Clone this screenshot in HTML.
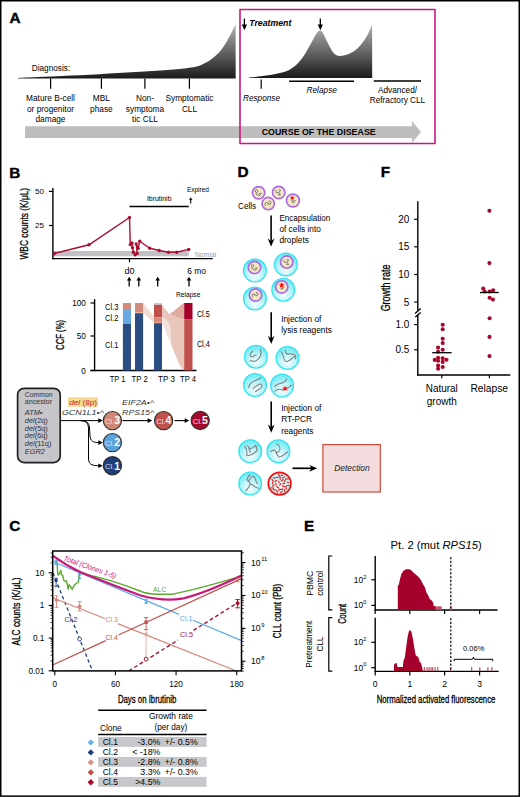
<!DOCTYPE html>
<html><head><meta charset="utf-8"><title>Figure</title>
<style>
html,body{margin:0;padding:0;background:#fff;width:520px;height:797px;overflow:hidden;}
svg{display:block;font-family:"Liberation Sans",sans-serif;}
</style></head><body>
<svg width="520" height="797" viewBox="0 0 520 797" font-family="&quot;Liberation Sans&quot;, sans-serif">
<defs>
<linearGradient id="gA1" x1="0" y1="23" x2="0" y2="79" gradientUnits="userSpaceOnUse">
<stop offset="0" stop-color="#b4b4b4"/><stop offset="0.45" stop-color="#6e6e6e"/><stop offset="1" stop-color="#1a1a1a"/>
</linearGradient>
<linearGradient id="gA2" x1="0" y1="25" x2="0" y2="78" gradientUnits="userSpaceOnUse">
<stop offset="0" stop-color="#b0b0b0"/><stop offset="0.45" stop-color="#6e6e6e"/><stop offset="1" stop-color="#1a1a1a"/>
</linearGradient>

<radialGradient id="gDrop" cx="0.5" cy="0.72" r="0.62">
<stop offset="0" stop-color="#f2fdfe"/><stop offset="0.5" stop-color="#c4f5fa"/><stop offset="1" stop-color="#7aebf4"/>
</radialGradient>
<radialGradient id="gDrop2" cx="0.5" cy="0.55" r="0.6">
<stop offset="0" stop-color="#ffffff"/><stop offset="0.45" stop-color="#d0f7fa"/><stop offset="1" stop-color="#a8f0f6"/>
</radialGradient>
</defs>
<rect x="0.75" y="0.75" width="518.5" height="795.4" fill="#fff" stroke="#000" stroke-width="1.5"/>
<text x="9.5" y="22.7" font-size="15.3" font-weight="bold" stroke="#000" stroke-width="0.4">A</text>
<path d="M17.9,78.6 L17.9,77.9 C60,76.6 120,73.2 160,70.6 C180,69.2 192,68 200,65.5 C213,60 221,52 227,41 C230.5,34.5 233.5,29 235.6,24.4 L235.7,78.6 Z" fill="url(#gA1)"/>
<line x1="50.6" y1="78.6" x2="50.6" y2="88.8" stroke="#000" stroke-width="1.2" />
<line x1="101.4" y1="78.6" x2="101.4" y2="88.8" stroke="#000" stroke-width="1.2" />
<line x1="144.9" y1="78.6" x2="144.9" y2="88.8" stroke="#000" stroke-width="1.2" />
<line x1="189.4" y1="78.6" x2="189.4" y2="88.8" stroke="#000" stroke-width="1.2" />
<text x="31.7" y="70.6" font-size="8.5" textLength="38.5" lengthAdjust="spacingAndGlyphs">Diagnosis:</text>
<text x="50.5" y="101.3" font-size="8.3" text-anchor="middle">Mature B-cell</text>
<text x="50.5" y="111.8" font-size="8.3" text-anchor="middle">or progenitor</text>
<text x="50.5" y="122.3" font-size="8.3" text-anchor="middle">damage</text>
<text x="101.4" y="101.3" font-size="8.3" text-anchor="middle">MBL</text>
<text x="101.4" y="111.8" font-size="8.3" text-anchor="middle">phase</text>
<text x="145.0" y="101.3" font-size="8.3" text-anchor="middle">Non-</text>
<text x="145.0" y="111.8" font-size="8.3" text-anchor="middle">symptoma</text>
<text x="145.0" y="122.3" font-size="8.3" text-anchor="middle">tic CLL</text>
<text x="189.5" y="101.3" font-size="8.3" text-anchor="middle">Symptomatic</text>
<text x="189.5" y="111.8" font-size="8.3" text-anchor="middle">CLL</text>
<polygon points="25.00,126.20 411.90,126.20 411.90,121.10 421.00,132.00 411.90,142.90 411.90,137.90 25.00,137.90" fill="#bdbdbd" />
<text x="261.7" y="135.2" font-size="9.3" font-weight="bold" textLength="114" lengthAdjust="spacingAndGlyphs">COURSE OF THE DISEASE</text>
<path d="M248.9,78 L248.9,77.6 C262,76.6 275,74.6 284,72.1 C292,69.5 298,64 303,57 C309,48 313,39 316.5,33.5 C318,31.2 319.2,30.6 320,30.6 C321,30.6 322.3,31.8 323.5,34 C326.5,40 329,46 332.5,51.5 C335,55 337,56 340,56 C345,56 350,53.5 355,50.5 C362,45 368,35.5 372.1,24.4 L372.2,78 Z" fill="url(#gA2)"/>
<line x1="244.4" y1="18.5" x2="244.4" y2="26.5" stroke="#000" stroke-width="1.3" />
<polygon points="241.80,24.50 247.00,24.50 244.40,30.20" fill="#000" />
<line x1="320.3" y1="18.5" x2="320.3" y2="26.5" stroke="#000" stroke-width="1.3" />
<polygon points="317.70,24.50 322.90,24.50 320.30,30.20" fill="#000" />
<text x="249.3" y="25.7" font-size="8.6" font-weight="bold" font-style="italic" textLength="42" lengthAdjust="spacingAndGlyphs">Treatment</text>
<line x1="261.2" y1="79.5" x2="261.2" y2="88.7" stroke="#000" stroke-width="1.2" />
<line x1="289.1" y1="81.2" x2="354" y2="81.2" stroke="#000" stroke-width="1.6" />
<line x1="373.8" y1="81" x2="421" y2="81" stroke="#000" stroke-width="1.6" />
<text x="243" y="101" font-size="8.3" font-style="italic" textLength="37" lengthAdjust="spacingAndGlyphs">Response</text>
<text x="321.7" y="92.5" font-size="8.3" text-anchor="middle" font-style="italic">Relapse</text>
<text x="397.5" y="93" font-size="8.3" text-anchor="middle">Advanced/</text>
<text x="397.5" y="103.3" font-size="8.3" text-anchor="middle" textLength="55.4" lengthAdjust="spacingAndGlyphs">Refractory CLL</text>
<rect x="240" y="9.5" width="195" height="134.0" fill="none" stroke="#c8177f" stroke-width="1.6" stroke-linejoin="round"/>
<text x="9.2" y="177.6" font-size="15.3" font-weight="bold" stroke="#000" stroke-width="0.4">B</text>
<rect x="53" y="251" width="135.7" height="5.3" fill="#c2c2c6" />
<line x1="52.9" y1="187.9" x2="52.9" y2="259.3" stroke="#000" stroke-width="1.4" />
<line x1="52.2" y1="258.6" x2="212.8" y2="258.6" stroke="#000" stroke-width="1.4" />
<line x1="48.9" y1="191.4" x2="52.9" y2="191.4" stroke="#000" stroke-width="1.2" />
<text x="44.0" y="194.3" font-size="8" text-anchor="end">50</text>
<line x1="48.9" y1="225.5" x2="52.9" y2="225.5" stroke="#000" stroke-width="1.2" />
<text x="44.0" y="228.4" font-size="8" text-anchor="end">25</text>
<line x1="129.5" y1="258.6" x2="129.5" y2="262.2" stroke="#000" stroke-width="1.2" />
<text transform="translate(28.1,223.7) rotate(-90)" x="0" y="0" font-size="11.6" text-anchor="middle" textLength="71.7" lengthAdjust="spacingAndGlyphs" stroke="#000" stroke-width="0.3">WBC counts (K/μL)</text>
<polyline points="54.40,253.50 89.00,244.80 129.50,217.50 130.30,244.60 132.00,243.00 132.50,247.80 133.40,252.20 135.20,254.70 137.20,253.40 136.20,244.00 138.20,248.40 139.70,241.20 149.70,248.30 159.20,250.50 168.50,252.30 176.70,252.20 188.70,249.40" fill="none" stroke="#a80f30" stroke-width="1.4" stroke-linejoin="round"/>
<circle cx="54.4" cy="253.5" r="1.7" fill="#a80f30"/>
<circle cx="89" cy="244.8" r="1.7" fill="#a80f30"/>
<circle cx="129.5" cy="217.5" r="1.7" fill="#a80f30"/>
<circle cx="130.3" cy="244.6" r="1.7" fill="#a80f30"/>
<circle cx="132" cy="243" r="1.7" fill="#a80f30"/>
<circle cx="132.5" cy="247.8" r="1.7" fill="#a80f30"/>
<circle cx="133.4" cy="252.2" r="1.7" fill="#a80f30"/>
<circle cx="135.2" cy="254.7" r="1.7" fill="#a80f30"/>
<circle cx="137.2" cy="253.4" r="1.7" fill="#a80f30"/>
<circle cx="136.2" cy="244" r="1.7" fill="#a80f30"/>
<circle cx="138.2" cy="248.4" r="1.7" fill="#a80f30"/>
<circle cx="139.7" cy="241.2" r="1.7" fill="#a80f30"/>
<circle cx="149.7" cy="248.3" r="1.7" fill="#a80f30"/>
<circle cx="159.2" cy="250.5" r="1.7" fill="#a80f30"/>
<circle cx="168.5" cy="252.3" r="1.7" fill="#a80f30"/>
<circle cx="176.7" cy="252.2" r="1.7" fill="#a80f30"/>
<circle cx="188.7" cy="249.4" r="1.7" fill="#a80f30"/>
<line x1="129.5" y1="206.5" x2="188.7" y2="206.5" stroke="#000" stroke-width="1.5" />
<text x="146.9" y="200.8" font-size="8" textLength="24.6" lengthAdjust="spacingAndGlyphs">Ibrutinib</text>
<text x="186.9" y="191.6" font-size="6.6" textLength="22.1" lengthAdjust="spacingAndGlyphs">Expired</text>
<line x1="190.7" y1="197.6" x2="190.7" y2="203.4" stroke="#000" stroke-width="1.1" />
<line x1="189.2" y1="199.4" x2="192.2" y2="199.4" stroke="#000" stroke-width="1.0" />
<text x="194.9" y="256.5" font-size="6.8" fill="#9a9a9a" textLength="21.4" lengthAdjust="spacingAndGlyphs">Normal</text>
<text x="124.4" y="274.1" font-size="8.6" textLength="10" lengthAdjust="spacingAndGlyphs">d0</text>
<text x="187.3" y="274.2" font-size="8.6" textLength="18.6" lengthAdjust="spacingAndGlyphs">6 mo</text>
<line x1="129.2" y1="279.5" x2="129.2" y2="286.6" stroke="#000" stroke-width="1.3" />
<polygon points="126.90,280.60 131.50,280.60 129.20,276.80" fill="#000" />
<line x1="138.8" y1="279.5" x2="138.8" y2="286.6" stroke="#000" stroke-width="1.3" />
<polygon points="136.50,280.60 141.10,280.60 138.80,276.80" fill="#000" />
<line x1="157.7" y1="279.5" x2="157.7" y2="286.6" stroke="#000" stroke-width="1.3" />
<polygon points="155.40,280.60 160.00,280.60 157.70,276.80" fill="#000" />
<line x1="189.0" y1="279.5" x2="189.0" y2="286.6" stroke="#000" stroke-width="1.3" />
<polygon points="186.70,280.60 191.30,280.60 189.00,276.80" fill="#000" />
<text x="176.0" y="297.0" font-size="7.0" textLength="24.4" lengthAdjust="spacingAndGlyphs">Relapse</text>
<line x1="94.6" y1="299.2" x2="94.6" y2="371.2" stroke="#000" stroke-width="1.4" />
<line x1="90.5" y1="370.5" x2="196.5" y2="370.5" stroke="#000" stroke-width="1.4" />
<line x1="90.5" y1="303.0" x2="94.6" y2="303.0" stroke="#000" stroke-width="1.2" />
<text x="85.8" y="306.0" font-size="8.2" text-anchor="end">100</text>
<line x1="90.5" y1="336.0" x2="94.6" y2="336.0" stroke="#000" stroke-width="1.2" />
<text x="85.8" y="339.0" font-size="8.2" text-anchor="end">50</text>
<line x1="90.5" y1="370.5" x2="94.6" y2="370.5" stroke="#000" stroke-width="1.2" />
<text x="85.8" y="373.5" font-size="8.2" text-anchor="end">0</text>
<text transform="translate(63.8,334.9) rotate(-90)" x="0" y="0" font-size="11.2" text-anchor="middle" textLength="30.1" lengthAdjust="spacingAndGlyphs" stroke="#000" stroke-width="0.3">CCF (%)</text>
<path d="M143.1,303 L154,316.8 L154,322.6 L143.1,313.2 Z" fill="#f1ddd6"/>
<path d="M162,305 C165,308 166.5,313.5 169,314 C172,314.3 178,318 184.1,319.5 L184.1,370.3 C181,368 179.5,365 177,359 C174,352 172,346 169.5,340 C167,334 164.5,326 162,323 Z" fill="#e9c6bb"/>
<path d="M162,317 C165.5,318.5 168.5,321 170,326 C170.8,329 171,334 171.3,342.5 C170.5,341.5 169.8,340.5 169.5,340 C167,334 164.5,326 162,323 Z" fill="#f3e2dc"/>
<path d="M162,305 C165,308 166.5,313.5 169,314 C173,313 179,306 184.1,303 L184.1,319.5 C178,318 172,314.3 169,314 Z" fill="#dfab9e"/>
<rect x="122.9" y="303" width="8.099999999999994" height="7" fill="#d48a7c" />
<rect x="122.9" y="310" width="8.099999999999994" height="13.800000000000011" fill="#68a8e0" />
<rect x="122.9" y="323.8" width="8.099999999999994" height="46.69999999999999" fill="#2c4c84" />
<rect x="135.0" y="303" width="8.099999999999994" height="9.300000000000011" fill="#d48a7c" />
<rect x="135.0" y="312.3" width="8.099999999999994" height="0.8999999999999773" fill="#f0a080" />
<rect x="135.0" y="313.2" width="8.099999999999994" height="57.30000000000001" fill="#2c4c84" />
<rect x="154.0" y="303" width="8.0" height="1.8000000000000114" fill="#c8ccd8" />
<rect x="154.0" y="304.8" width="8.0" height="12.399999999999977" fill="#c0504b" />
<rect x="154.0" y="317.2" width="8.0" height="4.800000000000011" fill="#d48a7c" />
<rect x="154.0" y="322.0" width="8.0" height="1.1999999999999886" fill="#f0a080" />
<rect x="154.0" y="323.2" width="8.0" height="47.30000000000001" fill="#2c4c84" />
<rect x="184.2" y="303" width="8.300000000000011" height="16.600000000000023" fill="#a6002a" />
<rect x="184.2" y="319.6" width="8.300000000000011" height="50.89999999999998" fill="#c0504b" />
<text x="105.0" y="309.7" font-size="8.2" textLength="13.3" lengthAdjust="spacingAndGlyphs">Cl.3</text>
<text x="105.0" y="320.9" font-size="8.2" textLength="13.3" lengthAdjust="spacingAndGlyphs">Cl.2</text>
<text x="105.0" y="348.0" font-size="8.2" textLength="13.3" lengthAdjust="spacingAndGlyphs">Cl.1</text>
<text x="196.9" y="317.0" font-size="8.4" textLength="12.8" lengthAdjust="spacingAndGlyphs">Cl.5</text>
<text x="196.9" y="347.1" font-size="8.4" textLength="12.8" lengthAdjust="spacingAndGlyphs">Cl.4</text>
<text x="109.7" y="382.1" font-size="8.6" textLength="15.7" lengthAdjust="spacingAndGlyphs">TP 1</text>
<text x="131.6" y="382.1" font-size="8.6" textLength="16.1" lengthAdjust="spacingAndGlyphs">TP 2</text>
<text x="158.1" y="382.1" font-size="8.6" textLength="16.8" lengthAdjust="spacingAndGlyphs">TP 3</text>
<text x="180.0" y="382.1" font-size="8.6" textLength="16.0" lengthAdjust="spacingAndGlyphs">TP 4</text>
<rect x="17.6" y="388.3" width="42.6" height="74.3" rx="6.5" ry="6.5" fill="#c5c5ca" stroke="#222" stroke-width="1.7"/>
<text x="24.8" y="396.5" font-size="7.2" fill="#333" textLength="27.9" lengthAdjust="spacingAndGlyphs">Common</text>
<text x="24.8" y="403.6" font-size="7.2" fill="#333" textLength="27.2" lengthAdjust="spacingAndGlyphs">ancestor</text>
<text x="24.8" y="415.2" font-size="7.4" font-style="italic" fill="#333">ATM•</text>
<text x="24.8" y="422.9" font-size="7.4" fill="#333"><tspan font-style="italic">del</tspan>(2q)</text>
<text x="24.8" y="430.6" font-size="7.4" fill="#333"><tspan font-style="italic">del</tspan>(5q)</text>
<text x="24.8" y="438.3" font-size="7.4" fill="#333"><tspan font-style="italic">del</tspan>(6q)</text>
<text x="24.8" y="446.0" font-size="7.4" fill="#333"><tspan font-style="italic">del</tspan>(11q)</text>
<text x="24.8" y="454.2" font-size="7.4" font-style="italic" fill="#333">EGR2</text>
<rect x="68.0" y="397.2" width="30.0" height="9.5" fill="#f6db8e" />
<text x="69.2" y="404.5" font-size="7.8" fill="#c42a30" textLength="27.8" lengthAdjust="spacingAndGlyphs"><tspan font-style="italic">del</tspan> (8p)</text>
<text x="61.9" y="414.8" font-size="8.0" font-style="italic" fill="#333" textLength="42" lengthAdjust="spacingAndGlyphs">GCN1L1•^</text>
<text x="122.1" y="404.7" font-size="8.0" font-style="italic" fill="#333" textLength="32" lengthAdjust="spacingAndGlyphs">EIF2A•^</text>
<text x="122.1" y="414.7" font-size="8.0" font-style="italic" fill="#333" textLength="32" lengthAdjust="spacingAndGlyphs">RPS15^</text>
<line x1="60.8" y1="420.6" x2="99" y2="420.6" stroke="#000" stroke-width="1.0" />
<polygon points="98.30,418.30 102.80,420.60 98.30,422.90" fill="#000" />
<path d="M80,420.6 C86,420.6 89,422 89.5,428 L90,436 C90.5,441 93,442.6 99,442.6" fill="none" stroke="#000" stroke-width="1.0"/>
<polygon points="98.30,440.30 102.80,442.60 98.30,444.90" fill="#000" />
<path d="M80,420.6 C85,420.6 88,422 88.5,428 L88.5,458 C88.5,464 91,465.7 99,465.7" fill="none" stroke="#000" stroke-width="1.0"/>
<polygon points="98.30,463.40 102.80,465.70 98.30,468.00" fill="#000" />
<line x1="122.5" y1="420.6" x2="148" y2="420.6" stroke="#000" stroke-width="1.1" />
<polygon points="147.70,418.30 152.20,420.60 147.70,422.90" fill="#000" />
<line x1="174.5" y1="420.6" x2="185" y2="420.6" stroke="#000" stroke-width="1.1" />
<polygon points="184.70,418.30 189.20,420.60 184.70,422.90" fill="#000" />
<circle cx="112.4" cy="420.6" r="9.1" fill="#d08777" stroke="#303030" stroke-width="1.15"/>
<text x="105.0" y="423.8" font-size="7.6" fill="#f4e8e8" opacity="0.92">Cl.</text>
<text x="114.2" y="424.40000000000003" font-size="10.5" font-weight="bold" fill="#fff">3</text>
<circle cx="112.4" cy="442.6" r="9.1" fill="#5aa2dd" stroke="#303030" stroke-width="1.15"/>
<text x="105.0" y="445.8" font-size="7.6" fill="#f4e8e8" opacity="0.92">Cl.</text>
<text x="114.2" y="446.40000000000003" font-size="10.5" font-weight="bold" fill="#fff">2</text>
<circle cx="112.4" cy="465.7" r="9.1" fill="#1d3e78" stroke="#303030" stroke-width="1.15"/>
<text x="105.0" y="468.9" font-size="7.6" fill="#f4e8e8" opacity="0.92">Cl.</text>
<text x="114.2" y="469.5" font-size="10.5" font-weight="bold" fill="#fff">1</text>
<circle cx="163.6" cy="420.6" r="9.1" fill="#c0524b" stroke="#303030" stroke-width="1.15"/>
<text x="156.2" y="423.8" font-size="7.6" fill="#f4e8e8" opacity="0.92">Cl.</text>
<text x="165.4" y="424.40000000000003" font-size="10.5" font-weight="bold" fill="#fff">4</text>
<circle cx="200.2" cy="420.5" r="9.1" fill="#a8072c" stroke="#303030" stroke-width="1.15"/>
<text x="192.79999999999998" y="423.7" font-size="7.6" fill="#f4e8e8" opacity="0.92">Cl.</text>
<text x="202.0" y="424.3" font-size="10.5" font-weight="bold" fill="#fff">5</text>
<text x="237.5" y="177.4" font-size="15.3" font-weight="bold" stroke="#000" stroke-width="0.4">D</text>
<text x="238.0" y="208.9" font-size="8.6" textLength="18.1" lengthAdjust="spacingAndGlyphs">Cells</text>
<circle cx="258.6" cy="192.8" r="6.15" fill="#f5e8c0" stroke="#ad68e8" stroke-width="1.7"/>
<path transform="translate(258.6,192.8)" d="M-2.2,-0.2 c-1.6,-0.4 -1.6,-2.8 0.2,-2.8 c1.6,0 1.8,2.2 0.4,2.6 c-1.2,0.3 -1.6,1.6 -0.4,2.2 c1.2,0.6 2.4,-0.4 3.2,-1.2 c0.8,-0.8 1.8,-0.4 1.4,0.6 c-0.4,1 -1.8,1 -2.6,2" fill="none" stroke="#6a6a6a" stroke-width="0.9"/>
<circle cx="278.7" cy="192.5" r="6.15" fill="#f5e8c0" stroke="#ad68e8" stroke-width="1.7"/>
<path transform="translate(278.7,192.5)" d="M-2.6,-2.4 c-0.4,1.4 -0.4,2.8 0.8,2.8 c1.2,0 2,-0.8 2.8,0 c0.6,0.7 0,1.8 -0.8,1.8 M0.2,-2.6 c1.2,-0.6 2.2,0.4 1.4,1.2 c-0.6,0.6 -1.6,0.2 -1.2,-0.6 M-0.8,1.6 c0.6,0.8 2,1.4 3,0.8" fill="none" stroke="#6a6a6a" stroke-width="0.9"/>
<circle cx="268.2" cy="203.6" r="6.15" fill="#f5e8c0" stroke="#ad68e8" stroke-width="1.7"/>
<path transform="translate(268.2,203.6)" d="M-2.8,2.4 c-0.8,-1.4 -0.4,-3.6 1.2,-3.6 c1.4,0 1.4,1.6 0.4,2 M0.4,-2.4 c1.6,-0.6 2.8,0.6 2.2,2 c-0.6,1.4 -2,1.6 -2.4,0.6 c-0.3,-0.8 0.6,-1.2 1,-0.6" fill="none" stroke="#6a6a6a" stroke-width="0.9"/>
<circle cx="292.9" cy="200.5" r="6.45" fill="#f5e8c0" stroke="#ad68e8" stroke-width="1.7"/>
<path transform="translate(292.9,200.5)" d="M-1.6,0 c0.8,-0.6 2.2,-0.4 2.2,0.6 c0,1 -1.4,1.2 -1.8,0.4 M-0.8,1.8 c0.8,0.6 2.2,0.4 2.6,-0.6 M1.6,-0.4 c0.6,-0.4 1,0.4 0.6,1.2" fill="none" stroke="#6a6a6a" stroke-width="0.9"/>
<polygon points="292.20,195.30 292.89,196.95 294.67,197.10 293.31,198.26 293.73,200.00 292.20,199.07 290.67,200.00 291.09,198.26 289.73,197.10 291.51,196.95" fill="#ff1010" />
<line x1="271.1" y1="215.6" x2="271.1" y2="241.6" stroke="#000" stroke-width="1.6" />
<polygon points="267.70,238.40 271.10,246.60 274.50,238.40 271.10,241.00" fill="#000" />
<text x="279.4" y="220.5" font-size="8.3" textLength="50.9" lengthAdjust="spacingAndGlyphs">Encapsulation</text>
<text x="279.4" y="232.0" font-size="8.3">of cells into</text>
<text x="279.4" y="243.4" font-size="8.3">droplets</text>
<circle cx="254.9" cy="270.6" r="11.35" fill="url(#gDrop)" stroke="#2fe3f0" stroke-width="1.3"/>
<circle cx="254.5" cy="267.5" r="6.15" fill="#f5e8c0" stroke="#ad68e8" stroke-width="1.7"/>
<path transform="translate(254.5,267.5)" d="M-2.2,-0.2 c-1.6,-0.4 -1.6,-2.8 0.2,-2.8 c1.6,0 1.8,2.2 0.4,2.6 c-1.2,0.3 -1.6,1.6 -0.4,2.2 c1.2,0.6 2.4,-0.4 3.2,-1.2 c0.8,-0.8 1.8,-0.4 1.4,0.6 c-0.4,1 -1.8,1 -2.6,2" fill="none" stroke="#6a6a6a" stroke-width="0.9"/>
<circle cx="285.9" cy="264.4" r="11.35" fill="url(#gDrop)" stroke="#2fe3f0" stroke-width="1.3"/>
<circle cx="286.75" cy="262.1" r="6.15" fill="#f5e8c0" stroke="#ad68e8" stroke-width="1.7"/>
<path transform="translate(286.75,262.1)" d="M-2.6,-2.4 c-0.4,1.4 -0.4,2.8 0.8,2.8 c1.2,0 2,-0.8 2.8,0 c0.6,0.7 0,1.8 -0.8,1.8 M0.2,-2.6 c1.2,-0.6 2.2,0.4 1.4,1.2 c-0.6,0.6 -1.6,0.2 -1.2,-0.6 M-0.8,1.6 c0.6,0.8 2,1.4 3,0.8" fill="none" stroke="#6a6a6a" stroke-width="0.9"/>
<circle cx="254.9" cy="298.5" r="11.35" fill="url(#gDrop)" stroke="#2fe3f0" stroke-width="1.3"/>
<circle cx="255.5" cy="295.0" r="6.15" fill="#f5e8c0" stroke="#ad68e8" stroke-width="1.7"/>
<path transform="translate(255.5,295.0)" d="M-2.8,2.4 c-0.8,-1.4 -0.4,-3.6 1.2,-3.6 c1.4,0 1.4,1.6 0.4,2 M0.4,-2.4 c1.6,-0.6 2.8,0.6 2.2,2 c-0.6,1.4 -2,1.6 -2.4,0.6 c-0.3,-0.8 0.6,-1.2 1,-0.6" fill="none" stroke="#6a6a6a" stroke-width="0.9"/>
<circle cx="283.25" cy="289.75" r="11.35" fill="url(#gDrop)" stroke="#2fe3f0" stroke-width="1.3"/>
<circle cx="281.70000000000005" cy="286.9" r="6.15" fill="#f5e8c0" stroke="#ad68e8" stroke-width="1.7"/>
<path transform="translate(281.70000000000005,286.9)" d="M-1.6,0 c0.8,-0.6 2.2,-0.4 2.2,0.6 c0,1 -1.4,1.2 -1.8,0.4 M-0.8,1.8 c0.8,0.6 2.2,0.4 2.6,-0.6 M1.6,-0.4 c0.6,-0.4 1,0.4 0.6,1.2" fill="none" stroke="#6a6a6a" stroke-width="0.9"/>
<polygon points="281.70,282.10 282.49,284.01 284.55,284.17 282.98,285.52 283.46,287.53 281.70,286.45 279.94,287.53 280.42,285.52 278.85,284.17 280.91,284.01" fill="#ff1010" />
<line x1="271.2" y1="312.3" x2="271.2" y2="339.0" stroke="#000" stroke-width="1.6" />
<polygon points="267.80,335.80 271.20,344.00 274.60,335.80 271.20,338.40" fill="#000" />
<text x="281.2" y="321.7" font-size="8.3">Injection of</text>
<text x="281.2" y="333.3" font-size="8.3">lysis reagents</text>
<circle cx="255.9" cy="356.7" r="11.35" fill="url(#gDrop)" stroke="#2fe3f0" stroke-width="1.3"/>
<path transform="translate(255.9,356.7)" d="M-3.2,-5.6 C-5.2,-3.9 -6.9,-1.2 -4.7,-0.1 C-2.5,1.0 -0.8,-2.3 0.3,-1.7 M4.4,-7.4 C5.7,-5.0 5.2,-0.6 3.0,1.6 C1.4,3.2 0.3,4.7 -1.4,4.7 C-3.0,4.6 -4.7,3.7 -5.8,4.2" fill="none" stroke="#7c7c7c" stroke-width="1.05" stroke-linecap="round"/>
<circle cx="287.5" cy="357.9" r="11.35" fill="url(#gDrop)" stroke="#2fe3f0" stroke-width="1.3"/>
<path transform="translate(287.5,357.9)" d="M-6.1,-6.0 C-3.9,-2.9 -3.7,3.6 -1.2,3.8 C1.6,3.6 4.9,0.3 7.1,-1.6 M-2.3,-7.5 C-2.0,-5.1 -1.5,-3.5 1.5,-3.8 C4.8,-4.2 7.9,-3.5 8.4,-1.3 L7.9,0.9" fill="none" stroke="#7c7c7c" stroke-width="1.05" stroke-linecap="round"/>
<circle cx="255.0" cy="385.0" r="11.35" fill="url(#gDrop)" stroke="#2fe3f0" stroke-width="1.3"/>
<path transform="translate(255.0,385.0)" d="M5.7,-7.3 C3.6,-5.2 -0.5,-4.7 -3.2,-2.6 C-5.2,-1.0 -6.2,1.0 -6.2,2.6 M-2.1,3.6 C-0.5,2.6 1.5,0.5 4.1,-0.7 C6.7,-1.6 7.8,1.0 6.2,2.6 C4.6,4.1 2.6,5.2 0.5,6.7" fill="none" stroke="#7c7c7c" stroke-width="1.05" stroke-linecap="round"/>
<circle cx="282.1" cy="385.6" r="11.35" fill="url(#gDrop)" stroke="#2fe3f0" stroke-width="1.3"/>
<path transform="translate(282.1,385.6)" d="M-7.4,0.9 C-5.8,-0.6 -3.8,-2.0 -1.2,-2.4 C1.4,-2.7 3.5,-4.3 4.6,-6.6 M-7.4,5.6 C-5.3,4.0 -2.7,3.2 -0.1,4.1 C2.5,5.1 5.6,3.0 7.7,0.9 L9.4,-0.4" fill="none" stroke="#7c7c7c" stroke-width="1.05" stroke-linecap="round"/>
<polygon points="285.00,385.50 285.79,387.41 287.85,387.57 286.28,388.92 286.76,390.93 285.00,389.85 283.24,390.93 283.72,388.92 282.15,387.57 284.21,387.41" fill="#ff1010" />
<line x1="271.2" y1="401.5" x2="271.2" y2="427.8" stroke="#000" stroke-width="1.6" />
<polygon points="267.80,424.60 271.20,432.80 274.60,424.60 271.20,427.20" fill="#000" />
<text x="281.2" y="410.6" font-size="8.3">Injection of</text>
<text x="281.2" y="422.4" font-size="8.3">RT-PCR</text>
<text x="281.2" y="433.6" font-size="8.3">reagents</text>
<circle cx="250.2" cy="451.2" r="11.35" fill="url(#gDrop)" stroke="#2fe3f0" stroke-width="1.3"/>
<path transform="translate(250.2,451.2)" d="M-5.4,-4.8 C-4.0,-3.0 -2.9,0.8 -3.4,4.6 M-2.6,-5.4 C-1.8,-4.6 -0.7,-3.0 0.3,-2.4 C1.9,-2.9 4.1,-4.6 5.7,-5.7 C6.2,-4.1 6.5,-2.4 6.8,-0.5 C5.2,1.3 1.9,3.5 -2.4,4.6 M-1.3,-2.4 L0.3,1.3" fill="none" stroke="#7c7c7c" stroke-width="1.05" stroke-linecap="round"/>
<circle cx="278.4" cy="451.2" r="11.35" fill="url(#gDrop)" stroke="#2fe3f0" stroke-width="1.3"/>
<path transform="translate(278.4,451.2)" d="M-1.7,-7.3 C0.7,-6.2 2.3,-3.5 1.2,-0.8 C0.5,0.8 -0.9,1.4 -2.3,1.0 M-7.7,0.6 C-6.8,-1.1 -4.7,-1.5 -3.4,-0.5 C-2.0,0.8 -1.5,5.1 0.7,5.9 C2.8,6.1 6.0,3.0 9.2,0.8" fill="none" stroke="#7c7c7c" stroke-width="1.05" stroke-linecap="round"/>
<circle cx="250.2" cy="483.5" r="11.35" fill="url(#gDrop)" stroke="#2fe3f0" stroke-width="1.3"/>
<path transform="translate(250.2,483.5)" d="M-0.3,-9.0 C-1.4,-8.0 -2.5,-6.1 -3.3,-3.9 C-1.9,-2.2 -0.3,-3.3 0.9,-6.1 C1.4,-7.2 3.1,-7.8 4.2,-6.1 C5.3,-4.5 5.6,-1.7 7.0,0.0 M-4.4,7.3 C-2.5,5.0 -0.8,3.9 -0.3,1.1 C0.1,-1.1 -1.0,-2.8 -2.2,-2.2 M0.3,0.6 C2.0,1.1 3.6,2.2 4.8,3.3 C5.9,4.2 7.6,4.5 8.7,4.7" fill="none" stroke="#7c7c7c" stroke-width="1.05" stroke-linecap="round"/>
<circle cx="279.6" cy="483.6" r="11.3" fill="url(#gDrop2)" stroke="#f51010" stroke-width="1.7"/>
<path d="M274.20,484.77 L272.70,486.23 M285.33,479.92 L284.30,481.90 M283.02,489.13 L281.09,489.35 M273.41,477.75 L275.29,478.29 M282.57,486.14 L284.49,486.34 M285.77,486.56 L286.46,488.99 M278.84,481.02 L279.13,482.88 M287.15,482.30 L288.84,483.01 M280.55,483.47 L279.81,485.49 M272.92,481.68 L272.61,483.87 M284.56,477.01 L282.41,477.98 M276.90,486.49 L279.01,488.26 M280.11,476.92 L280.21,479.45 M284.45,483.38 L282.62,483.84 M276.38,490.25 L277.42,492.20 M271.90,479.25 L273.01,480.72 M278.48,474.06 L279.61,476.50 M289.20,485.55 L286.38,485.71 M276.70,480.54 L274.84,481.35 M273.11,489.56 L275.58,490.01 M278.14,477.39 L276.31,477.55 M275.85,483.06 L276.17,485.27 M283.25,479.49 L281.10,481.21 M282.32,491.09 L280.30,492.95 M285.49,478.91 L288.14,479.05 M280.42,489.24 L278.48,490.21 M270.86,487.83 L273.64,488.14 M282.72,475.13 L280.99,475.71 M284.76,489.38 L284.35,491.50" stroke="#f01c1c" stroke-width="1.15" fill="none" stroke-linecap="round"/>
<line x1="292.5" y1="468.3" x2="312.5" y2="468.3" stroke="#000" stroke-width="1.7" />
<polygon points="309.20,464.90 317.20,468.30 309.20,471.70 311.60,468.30" fill="#000" />
<rect x="322.9" y="444.6" width="57.4" height="47.4" fill="#f2dcdd" stroke="#d0493b" stroke-width="1.2"/>
<text x="334.2" y="471.0" font-size="8.5" font-style="italic" fill="#222" textLength="35.5" lengthAdjust="spacingAndGlyphs">Detection</text>
<text x="380.7" y="177.4" font-size="15.3" font-weight="bold" stroke="#000" stroke-width="0.4">F</text>
<line x1="417.8" y1="201.2" x2="417.8" y2="310.6" stroke="#000" stroke-width="1.4" />
<line x1="417.8" y1="315.0" x2="417.8" y2="375.6" stroke="#000" stroke-width="1.4" />
<line x1="415.1" y1="313.6" x2="420.7" y2="308.4" stroke="#000" stroke-width="1.3" />
<line x1="415.3" y1="317.0" x2="420.7" y2="312.4" stroke="#000" stroke-width="1.3" />
<line x1="417.1" y1="375.0" x2="510.3" y2="375.0" stroke="#000" stroke-width="1.4" />
<line x1="414.2" y1="219.3" x2="417.8" y2="219.3" stroke="#000" stroke-width="1.2" />
<text x="409.3" y="222.8" font-size="10.0" text-anchor="end">20</text>
<line x1="414.2" y1="246.8" x2="417.8" y2="246.8" stroke="#000" stroke-width="1.2" />
<text x="409.3" y="250.3" font-size="10.0" text-anchor="end">15</text>
<line x1="414.2" y1="274.5" x2="417.8" y2="274.5" stroke="#000" stroke-width="1.2" />
<text x="409.3" y="278.0" font-size="10.0" text-anchor="end">10</text>
<line x1="414.2" y1="302.1" x2="417.8" y2="302.1" stroke="#000" stroke-width="1.2" />
<text x="409.3" y="305.6" font-size="10.0" text-anchor="end">5</text>
<line x1="414.2" y1="324.6" x2="417.8" y2="324.6" stroke="#000" stroke-width="1.2" />
<text x="409.3" y="328.1" font-size="10.0" text-anchor="end">1.0</text>
<line x1="414.2" y1="349.8" x2="417.8" y2="349.8" stroke="#000" stroke-width="1.2" />
<text x="409.3" y="353.3" font-size="10.0" text-anchor="end">0.5</text>
<line x1="441.8" y1="375.0" x2="441.8" y2="378.3" stroke="#000" stroke-width="1.2" />
<line x1="489.4" y1="375.0" x2="489.4" y2="378.3" stroke="#000" stroke-width="1.2" />
<text transform="translate(389.8,288.0) rotate(-90)" x="0" y="0" font-size="12.8" text-anchor="middle" textLength="46.7" lengthAdjust="spacingAndGlyphs" stroke="#000" stroke-width="0.3">Growth rate</text>
<text x="441.8" y="392.3" font-size="10.0" text-anchor="middle" textLength="31.9" lengthAdjust="spacingAndGlyphs">Natural</text>
<text x="441.8" y="405.0" font-size="10.0" text-anchor="middle">growth</text>
<text x="489.2" y="392.3" font-size="10.0" text-anchor="middle" textLength="37.6" lengthAdjust="spacingAndGlyphs">Relapse</text>
<circle cx="442.7" cy="324.8" r="2.05" fill="#a8052d"/>
<circle cx="442.7" cy="329.3" r="2.05" fill="#a8052d"/>
<circle cx="442.7" cy="338.7" r="2.05" fill="#a8052d"/>
<circle cx="442.7" cy="343.1" r="2.05" fill="#a8052d"/>
<circle cx="438.1" cy="347.6" r="2.05" fill="#a8052d"/>
<circle cx="442.7" cy="349.7" r="2.05" fill="#a8052d"/>
<circle cx="438.1" cy="351.7" r="2.05" fill="#a8052d"/>
<circle cx="434.7" cy="359.9" r="2.05" fill="#a8052d"/>
<circle cx="438.1" cy="357.8" r="2.05" fill="#a8052d"/>
<circle cx="442.7" cy="358.2" r="2.05" fill="#a8052d"/>
<circle cx="446.5" cy="359.7" r="2.05" fill="#a8052d"/>
<circle cx="442.7" cy="361.9" r="2.05" fill="#a8052d"/>
<circle cx="438.1" cy="360.7" r="2.05" fill="#a8052d"/>
<circle cx="438.1" cy="365.6" r="2.05" fill="#a8052d"/>
<circle cx="442.7" cy="367.0" r="2.05" fill="#a8052d"/>
<circle cx="438.1" cy="368.8" r="2.05" fill="#a8052d"/>
<circle cx="489.4" cy="210.8" r="2.05" fill="#a8052d"/>
<circle cx="489.4" cy="263.1" r="2.05" fill="#a8052d"/>
<circle cx="483.2" cy="288.5" r="2.05" fill="#a8052d"/>
<circle cx="484.6" cy="291.5" r="2.05" fill="#a8052d"/>
<circle cx="489.6" cy="291.5" r="2.05" fill="#a8052d"/>
<circle cx="493.1" cy="290.2" r="2.05" fill="#a8052d"/>
<circle cx="489.6" cy="297.7" r="2.05" fill="#a8052d"/>
<circle cx="492.9" cy="299.6" r="2.05" fill="#a8052d"/>
<circle cx="489.6" cy="318.3" r="2.05" fill="#a8052d"/>
<circle cx="489.5" cy="336.9" r="2.05" fill="#a8052d"/>
<circle cx="489.5" cy="356.1" r="2.05" fill="#a8052d"/>
<line x1="432.2" y1="352.7" x2="451.6" y2="352.7" stroke="#000" stroke-width="1.3" />
<line x1="480.0" y1="292.5" x2="498.8" y2="292.5" stroke="#000" stroke-width="1.3" />
<text x="9.2" y="531.2" font-size="15.3" font-weight="bold" stroke="#000" stroke-width="0.4">C</text>
<clipPath id="clipC"><rect x="52.7" y="551.0" width="188.8" height="119.89999999999998"/></clipPath>
<line x1="48.7" y1="670.8" x2="52.7" y2="670.8" stroke="#000" stroke-width="1.1" />
<line x1="50.6" y1="660.9563191417878" x2="52.7" y2="660.9563191417878" stroke="#000" stroke-width="0.8" />
<line x1="50.6" y1="655.1981349706671" x2="52.7" y2="655.1981349706671" stroke="#000" stroke-width="0.8" />
<line x1="50.6" y1="651.1126382835756" x2="52.7" y2="651.1126382835756" stroke="#000" stroke-width="0.8" />
<line x1="50.6" y1="647.9436808582121" x2="52.7" y2="647.9436808582121" stroke="#000" stroke-width="0.8" />
<line x1="50.6" y1="645.3544541124548" x2="52.7" y2="645.3544541124548" stroke="#000" stroke-width="0.8" />
<line x1="50.6" y1="643.1652940915337" x2="52.7" y2="643.1652940915337" stroke="#000" stroke-width="0.8" />
<line x1="50.6" y1="641.2689574253634" x2="52.7" y2="641.2689574253634" stroke="#000" stroke-width="0.8" />
<line x1="50.6" y1="639.5962699413341" x2="52.7" y2="639.5962699413341" stroke="#000" stroke-width="0.8" />
<line x1="48.7" y1="638.1" x2="52.7" y2="638.1" stroke="#000" stroke-width="1.1" />
<line x1="50.6" y1="628.2563191417878" x2="52.7" y2="628.2563191417878" stroke="#000" stroke-width="0.8" />
<line x1="50.6" y1="622.498134970667" x2="52.7" y2="622.498134970667" stroke="#000" stroke-width="0.8" />
<line x1="50.6" y1="618.4126382835756" x2="52.7" y2="618.4126382835756" stroke="#000" stroke-width="0.8" />
<line x1="50.6" y1="615.2436808582122" x2="52.7" y2="615.2436808582122" stroke="#000" stroke-width="0.8" />
<line x1="50.6" y1="612.6544541124548" x2="52.7" y2="612.6544541124548" stroke="#000" stroke-width="0.8" />
<line x1="50.6" y1="610.4652940915338" x2="52.7" y2="610.4652940915338" stroke="#000" stroke-width="0.8" />
<line x1="50.6" y1="608.5689574253635" x2="52.7" y2="608.5689574253635" stroke="#000" stroke-width="0.8" />
<line x1="50.6" y1="606.896269941334" x2="52.7" y2="606.896269941334" stroke="#000" stroke-width="0.8" />
<line x1="48.7" y1="605.4" x2="52.7" y2="605.4" stroke="#000" stroke-width="1.1" />
<line x1="50.6" y1="595.5563191417878" x2="52.7" y2="595.5563191417878" stroke="#000" stroke-width="0.8" />
<line x1="50.6" y1="589.798134970667" x2="52.7" y2="589.798134970667" stroke="#000" stroke-width="0.8" />
<line x1="50.6" y1="585.7126382835756" x2="52.7" y2="585.7126382835756" stroke="#000" stroke-width="0.8" />
<line x1="50.6" y1="582.5436808582122" x2="52.7" y2="582.5436808582122" stroke="#000" stroke-width="0.8" />
<line x1="50.6" y1="579.9544541124549" x2="52.7" y2="579.9544541124549" stroke="#000" stroke-width="0.8" />
<line x1="50.6" y1="577.7652940915337" x2="52.7" y2="577.7652940915337" stroke="#000" stroke-width="0.8" />
<line x1="50.6" y1="575.8689574253634" x2="52.7" y2="575.8689574253634" stroke="#000" stroke-width="0.8" />
<line x1="50.6" y1="574.1962699413341" x2="52.7" y2="574.1962699413341" stroke="#000" stroke-width="0.8" />
<line x1="48.7" y1="572.6999999999999" x2="52.7" y2="572.6999999999999" stroke="#000" stroke-width="1.1" />
<line x1="50.6" y1="562.8563191417878" x2="52.7" y2="562.8563191417878" stroke="#000" stroke-width="0.8" />
<line x1="50.6" y1="557.098134970667" x2="52.7" y2="557.098134970667" stroke="#000" stroke-width="0.8" />
<line x1="50.6" y1="553.0126382835756" x2="52.7" y2="553.0126382835756" stroke="#000" stroke-width="0.8" />
<text x="44.4" y="575.5999999999999" font-size="8.2" text-anchor="end">10</text>
<text x="44.4" y="608.3" font-size="8.2" text-anchor="end">1</text>
<text x="44.4" y="641.0" font-size="8.2" text-anchor="end">0.1</text>
<text x="44.4" y="673.6999999999999" font-size="8.2" text-anchor="end">0.01</text>
<line x1="241.5" y1="671.0948559574751" x2="243.7" y2="671.0948559574751" stroke="#000" stroke-width="0.8" />
<line x1="241.5" y1="668.4921683998897" x2="243.7" y2="668.4921683998897" stroke="#000" stroke-width="0.8" />
<line x1="241.5" y1="666.2916274247315" x2="243.7" y2="666.2916274247315" stroke="#000" stroke-width="0.8" />
<line x1="241.5" y1="664.3854321275749" x2="243.7" y2="664.3854321275749" stroke="#000" stroke-width="0.8" />
<line x1="241.5" y1="662.7040487147294" x2="243.7" y2="662.7040487147294" stroke="#000" stroke-width="0.8" />
<line x1="241.5" y1="661.2" x2="245.5" y2="661.2" stroke="#000" stroke-width="1.1" />
<line x1="241.5" y1="651.305144042525" x2="243.7" y2="651.305144042525" stroke="#000" stroke-width="0.8" />
<line x1="241.5" y1="645.5170243573648" x2="243.7" y2="645.5170243573648" stroke="#000" stroke-width="0.8" />
<line x1="241.5" y1="641.41028808505" x2="243.7" y2="641.41028808505" stroke="#000" stroke-width="0.8" />
<line x1="241.5" y1="638.2248559574751" x2="243.7" y2="638.2248559574751" stroke="#000" stroke-width="0.8" />
<line x1="241.5" y1="635.6221683998897" x2="243.7" y2="635.6221683998897" stroke="#000" stroke-width="0.8" />
<line x1="241.5" y1="633.4216274247315" x2="243.7" y2="633.4216274247315" stroke="#000" stroke-width="0.8" />
<line x1="241.5" y1="631.5154321275749" x2="243.7" y2="631.5154321275749" stroke="#000" stroke-width="0.8" />
<line x1="241.5" y1="629.8340487147294" x2="243.7" y2="629.8340487147294" stroke="#000" stroke-width="0.8" />
<line x1="241.5" y1="628.33" x2="245.5" y2="628.33" stroke="#000" stroke-width="1.1" />
<line x1="241.5" y1="618.4351440425249" x2="243.7" y2="618.4351440425249" stroke="#000" stroke-width="0.8" />
<line x1="241.5" y1="612.6470243573648" x2="243.7" y2="612.6470243573648" stroke="#000" stroke-width="0.8" />
<line x1="241.5" y1="608.54028808505" x2="243.7" y2="608.54028808505" stroke="#000" stroke-width="0.8" />
<line x1="241.5" y1="605.3548559574751" x2="243.7" y2="605.3548559574751" stroke="#000" stroke-width="0.8" />
<line x1="241.5" y1="602.7521683998897" x2="243.7" y2="602.7521683998897" stroke="#000" stroke-width="0.8" />
<line x1="241.5" y1="600.5516274247315" x2="243.7" y2="600.5516274247315" stroke="#000" stroke-width="0.8" />
<line x1="241.5" y1="598.6454321275748" x2="243.7" y2="598.6454321275748" stroke="#000" stroke-width="0.8" />
<line x1="241.5" y1="596.9640487147294" x2="243.7" y2="596.9640487147294" stroke="#000" stroke-width="0.8" />
<line x1="241.5" y1="595.46" x2="245.5" y2="595.46" stroke="#000" stroke-width="1.1" />
<line x1="241.5" y1="585.5651440425249" x2="243.7" y2="585.5651440425249" stroke="#000" stroke-width="0.8" />
<line x1="241.5" y1="579.7770243573648" x2="243.7" y2="579.7770243573648" stroke="#000" stroke-width="0.8" />
<line x1="241.5" y1="575.67028808505" x2="243.7" y2="575.67028808505" stroke="#000" stroke-width="0.8" />
<line x1="241.5" y1="572.4848559574751" x2="243.7" y2="572.4848559574751" stroke="#000" stroke-width="0.8" />
<line x1="241.5" y1="569.8821683998897" x2="243.7" y2="569.8821683998897" stroke="#000" stroke-width="0.8" />
<line x1="241.5" y1="567.6816274247315" x2="243.7" y2="567.6816274247315" stroke="#000" stroke-width="0.8" />
<line x1="241.5" y1="565.7754321275748" x2="243.7" y2="565.7754321275748" stroke="#000" stroke-width="0.8" />
<line x1="241.5" y1="564.0940487147294" x2="243.7" y2="564.0940487147294" stroke="#000" stroke-width="0.8" />
<line x1="241.5" y1="562.59" x2="245.5" y2="562.59" stroke="#000" stroke-width="1.1" />
<line x1="241.5" y1="552.695144042525" x2="243.7" y2="552.695144042525" stroke="#000" stroke-width="0.8" />
<text x="250.9" y="565.5" font-size="8.6">10</text>
<text x="261.2" y="561.3" font-size="5.8">11</text>
<text x="250.9" y="598.0" font-size="8.6">10</text>
<text x="261.2" y="593.8" font-size="5.8">10</text>
<text x="250.9" y="631.4" font-size="8.6">10</text>
<text x="261.2" y="627.1999999999999" font-size="5.8">9</text>
<text x="250.9" y="663.9" font-size="8.6">10</text>
<text x="261.2" y="659.6999999999999" font-size="5.8">8</text>
<line x1="54.8" y1="670.9" x2="54.8" y2="675.2" stroke="#000" stroke-width="1.1" />
<text x="54.8" y="686.8" font-size="8.2" text-anchor="middle">0</text>
<line x1="115.43599999999999" y1="670.9" x2="115.43599999999999" y2="675.2" stroke="#000" stroke-width="1.1" />
<text x="115.43599999999999" y="686.8" font-size="8.2" text-anchor="middle">60</text>
<line x1="176.072" y1="670.9" x2="176.072" y2="675.2" stroke="#000" stroke-width="1.1" />
<text x="176.072" y="686.8" font-size="8.2" text-anchor="middle">120</text>
<line x1="236.70799999999997" y1="670.9" x2="236.70799999999997" y2="675.2" stroke="#000" stroke-width="1.1" />
<text x="236.70799999999997" y="686.8" font-size="8.2" text-anchor="middle">180</text>
<text transform="translate(19.8,611.5) rotate(-90)" x="0" y="0" font-size="11.0" text-anchor="middle" textLength="68.2" lengthAdjust="spacingAndGlyphs" stroke="#000" stroke-width="0.3">ALC counts (K/μL)</text>
<text transform="translate(281.2,611.0) rotate(-90)" x="0" y="0" font-size="11.0" text-anchor="middle" textLength="54.5" lengthAdjust="spacingAndGlyphs" stroke="#000" stroke-width="0.3">CLL count (PB)</text>
<text x="117.9" y="703.1" font-size="10.6" textLength="58.5" lengthAdjust="spacingAndGlyphs" stroke="#000" stroke-width="0.3">Days on Ibrutinib</text>
<g clip-path="url(#clipC)">
<line x1="52.7" y1="561.5" x2="179.0" y2="614.4" stroke="#5aa9e6" stroke-width="1.2" />
<line x1="193.0" y1="620.3" x2="241.5" y2="640.6" stroke="#5aa9e6" stroke-width="1.2" />
<line x1="53.0" y1="573.0" x2="92.5" y2="670.9" stroke="#203f7c" stroke-width="1.3" stroke-dasharray="3.6,2.6"/>
<line x1="52.7" y1="597.7" x2="104.8" y2="618.5" stroke="#d3877a" stroke-width="1.2" />
<line x1="117.8" y1="623.6" x2="236.5" y2="671.0" stroke="#d3877a" stroke-width="1.2" />
<line x1="52.7" y1="665.0" x2="105.8" y2="640.6" stroke="#c0514b" stroke-width="1.2" />
<line x1="118.5" y1="635.0" x2="241.5" y2="578.6" stroke="#c0514b" stroke-width="1.2" />
<line x1="128.8" y1="670.9" x2="178.0" y2="640.1" stroke="#a8102e" stroke-width="1.4" stroke-dasharray="3.8,2.6"/>
<line x1="193.5" y1="630.4" x2="238.0" y2="602.5" stroke="#a8102e" stroke-width="1.4" stroke-dasharray="3.8,2.6"/>
<path d="M56.8,558.1 L57.7,573.1 L58.3,575.0 L59.6,573.1 L60.8,570.4 L61.5,574.6 L62.7,575.4 L63.8,580.4 L65.4,581.5 L66.2,580.8 L67.3,584.2 L68.1,589.2 L69.2,584.6 L70.8,586.9 L72.3,589.6 L73.8,585.8 L76.2,583.5 L78.5,581.9 L79.1,573.8 L80.0,573.1 C95,576 120,583 140,591 C146,593.6 150,594.2 158,594.2 L172,594.2 C185,592 205,587 241.5,576.2" fill="none" stroke="#5aab2e" stroke-width="1.4" stroke-linejoin="round"/>
<path d="M52.7,555.6 C62,562.5 70,567.3 80.8,572.3 C100,580 120,588 140,595.2 C155,599.5 170,600.5 182,598.7 C200,594.5 220,586 241.5,575.5" fill="none" stroke="#c8187a" stroke-width="2.2"/>
</g>
<polygon points="54.10,560.40 57.90,560.40 54.10,564.20 57.90,564.20" fill="#5aa9e6" />
<line x1="56.0" y1="560.0999999999999" x2="56.0" y2="564.5" stroke="#5aa9e6" stroke-width="0.8" />
<line x1="54.4" y1="560.0999999999999" x2="57.6" y2="560.0999999999999" stroke="#5aa9e6" stroke-width="0.8" />
<line x1="54.4" y1="564.5" x2="57.6" y2="564.5" stroke="#5aa9e6" stroke-width="0.8" />
<polygon points="77.70,574.60 81.50,574.60 77.70,578.40 81.50,578.40" fill="#5aa9e6" />
<line x1="79.6" y1="574.3" x2="79.6" y2="578.7" stroke="#5aa9e6" stroke-width="0.8" />
<line x1="78.0" y1="574.3" x2="81.19999999999999" y2="574.3" stroke="#5aa9e6" stroke-width="0.8" />
<line x1="78.0" y1="578.7" x2="81.19999999999999" y2="578.7" stroke="#5aa9e6" stroke-width="0.8" />
<polygon points="144.20,599.40 148.00,599.40 144.20,603.20 148.00,603.20" fill="#5aa9e6" />
<line x1="146.1" y1="599.0999999999999" x2="146.1" y2="603.5" stroke="#5aa9e6" stroke-width="0.8" />
<line x1="144.5" y1="599.0999999999999" x2="147.7" y2="599.0999999999999" stroke="#5aa9e6" stroke-width="0.8" />
<line x1="144.5" y1="603.5" x2="147.7" y2="603.5" stroke="#5aa9e6" stroke-width="0.8" />
<circle cx="56.1" cy="580.5" r="1.7" fill="#203f7c"/>
<line x1="56.1" y1="578.3" x2="56.1" y2="586.3" stroke="#203f7c" stroke-width="0.9" />
<line x1="54.300000000000004" y1="578.3" x2="57.9" y2="578.3" stroke="#203f7c" stroke-width="0.9" />
<line x1="54.300000000000004" y1="586.3" x2="57.9" y2="586.3" stroke="#203f7c" stroke-width="0.9" />
<circle cx="79.6" cy="639.1" r="1.9" fill="#fff" stroke="#203f7c" stroke-width="0.9"/>
<circle cx="56.5" cy="600.1" r="1.9" fill="#d3877a"/>
<line x1="56.5" y1="595.8" x2="56.5" y2="607.4" stroke="#d3877a" stroke-width="0.9" />
<line x1="54.5" y1="595.8" x2="58.5" y2="595.8" stroke="#d3877a" stroke-width="0.9" />
<line x1="54.5" y1="607.4" x2="58.5" y2="607.4" stroke="#d3877a" stroke-width="0.9" />
<circle cx="79.6" cy="606.3" r="1.9" fill="#d3877a"/>
<line x1="79.6" y1="601.6" x2="79.6" y2="611.0" stroke="#d3877a" stroke-width="0.9" />
<line x1="77.6" y1="601.6" x2="81.6" y2="601.6" stroke="#d3877a" stroke-width="0.9" />
<line x1="77.6" y1="611.0" x2="81.6" y2="611.0" stroke="#d3877a" stroke-width="0.9" />
<circle cx="146.1" cy="634.3" r="1.8" fill="#d99c90"/>
<line x1="146.1" y1="629.6" x2="146.1" y2="659.9" stroke="#e2aaa0" stroke-width="0.9" />
<rect x="144.4" y="620.5" width="3.4" height="3.4" fill="#c0514b" />
<line x1="146.1" y1="617.5" x2="146.1" y2="629.6" stroke="#c0514b" stroke-width="0.9" />
<line x1="144.1" y1="617.5" x2="148.1" y2="617.5" stroke="#c0514b" stroke-width="0.9" />
<line x1="144.1" y1="629.6" x2="148.1" y2="629.6" stroke="#c0514b" stroke-width="0.9" />
<polygon points="235.60,578.30 239.60,578.30 235.60,582.30 239.60,582.30" fill="#d07a70" />
<circle cx="146.1" cy="659.2" r="1.9" fill="#fff" stroke="#a8102e" stroke-width="1.0"/>
<circle cx="237.6" cy="603.2" r="1.9" fill="#a8102e"/>
<line x1="237.6" y1="599.6" x2="237.6" y2="607.8" stroke="#a8102e" stroke-width="1.0" />
<line x1="235.4" y1="599.6" x2="239.79999999999998" y2="599.6" stroke="#a8102e" stroke-width="1.0" />
<line x1="235.4" y1="607.8" x2="239.79999999999998" y2="607.8" stroke="#a8102e" stroke-width="1.0" />
<rect x="52.7" y="551.0" width="188.8" height="119.89999999999998" fill="none" stroke="#000" stroke-width="1.5"/>
<text x="64.4" y="622.3" font-size="7.8" fill="#203f7c" textLength="13.0" lengthAdjust="spacingAndGlyphs">Cl.2</text>
<text x="105.5" y="622.3" font-size="7.8" fill="#d3877a" textLength="12.3" lengthAdjust="spacingAndGlyphs">Cl.3</text>
<text x="105.5" y="639.6" font-size="7.8" fill="#c0514b" textLength="12.3" lengthAdjust="spacingAndGlyphs">Cl.4</text>
<text x="180.0" y="636.9" font-size="7.8" fill="#a8102e" textLength="13.0" lengthAdjust="spacingAndGlyphs">Cl.5</text>
<text x="179.8" y="620.9" font-size="7.8" fill="#5aa9e6" textLength="12.6" lengthAdjust="spacingAndGlyphs">Cl.1</text>
<text x="153.1" y="591.6" font-size="7.8" fill="#5aab2e" textLength="13.2" lengthAdjust="spacingAndGlyphs">ALC</text>
<text transform="translate(63.1,560.2) rotate(19.6)" x="0" y="0" font-size="7.4" font-style="italic" fill="#c8187a" textLength="55.4" lengthAdjust="spacingAndGlyphs">Total (Clones 1-5)</text>
<line x1="98.2" y1="710.3" x2="206.6" y2="710.3" stroke="#000" stroke-width="1.4" />
<line x1="98.2" y1="734.5" x2="206.6" y2="734.5" stroke="#000" stroke-width="1.4" />
<text x="148.9" y="719.4" font-size="8.5" textLength="44.0" lengthAdjust="spacingAndGlyphs">Growth rate</text>
<text x="154.4" y="730.2" font-size="8.5" textLength="32.9" lengthAdjust="spacingAndGlyphs">(per day)</text>
<text x="99.9" y="730.8" font-size="8.5" textLength="21.8" lengthAdjust="spacingAndGlyphs">Clone</text>
<rect x="98.2" y="737.0" width="108.4" height="9.9" fill="#c8c8cc" />
<polygon points="90.80,739.20 94.00,742.40 90.80,745.60 87.60,742.40" fill="#6cb3ea" />
<text x="102.7" y="745.0" font-size="8.8" textLength="15.2" lengthAdjust="spacingAndGlyphs">Cl.1</text>
<text x="160.4" y="745.0" font-size="8.8" text-anchor="end">-3.0%</text>
<text x="164.8" y="745.0" font-size="8.8" textLength="32.9" lengthAdjust="spacingAndGlyphs">+/- 0.5%</text>
<polygon points="90.80,749.18 94.00,752.38 90.80,755.58 87.60,752.38" fill="#1e4080" />
<text x="102.7" y="754.98" font-size="8.8" textLength="15.2" lengthAdjust="spacingAndGlyphs">Cl.2</text>
<text x="160.4" y="754.98" font-size="8.8" text-anchor="end">&lt; -18%</text>
<rect x="98.2" y="756.96" width="108.4" height="9.9" fill="#c8c8cc" />
<polygon points="90.80,759.16 94.00,762.36 90.80,765.56 87.60,762.36" fill="#d8958a" />
<text x="102.7" y="764.96" font-size="8.8" textLength="15.2" lengthAdjust="spacingAndGlyphs">Cl.3</text>
<text x="160.4" y="764.96" font-size="8.8" text-anchor="end">-2.8%</text>
<text x="164.8" y="764.96" font-size="8.8" textLength="32.9" lengthAdjust="spacingAndGlyphs">+/- 0.8%</text>
<polygon points="90.80,769.14 94.00,772.34 90.80,775.54 87.60,772.34" fill="#c05149" />
<text x="102.7" y="774.94" font-size="8.8" textLength="15.2" lengthAdjust="spacingAndGlyphs">Cl.4</text>
<text x="160.4" y="774.94" font-size="8.8" text-anchor="end">3.3%</text>
<text x="164.8" y="774.94" font-size="8.8" textLength="32.9" lengthAdjust="spacingAndGlyphs">+/- 0.3%</text>
<rect x="98.2" y="776.92" width="108.4" height="9.9" fill="#c8c8cc" />
<polygon points="90.80,779.12 94.00,782.32 90.80,785.52 87.60,782.32" fill="#a8042c" />
<text x="102.7" y="784.92" font-size="8.8" textLength="15.2" lengthAdjust="spacingAndGlyphs">Cl.5</text>
<text x="160.4" y="784.92" font-size="8.8" text-anchor="end">&gt;4.5%</text>
<text x="304.1" y="530.6" font-size="15.3" font-weight="bold" stroke="#000" stroke-width="0.4">E</text>
<text x="390.5" y="548.7" font-size="10.4" textLength="91.3" lengthAdjust="spacingAndGlyphs">Pt. 2 (mut <tspan font-style="italic">RPS15</tspan>)</text>
<path d="M332.3,556.0 L328.8,556.0 L328.8,609.8 L332.3,609.8" fill="none" stroke="#000" stroke-width="1.2"/>
<path d="M332.3,617.7 L328.8,617.7 L328.8,671.1 L332.3,671.1" fill="none" stroke="#000" stroke-width="1.2"/>
<text transform="translate(312.9,583.3) rotate(-90)" x="0" y="0" font-size="8.6" text-anchor="middle" textLength="25.0" lengthAdjust="spacingAndGlyphs">PBMC</text>
<text transform="translate(322.8,583.3) rotate(-90)" x="0" y="0" font-size="8.6" text-anchor="middle" textLength="25.0" lengthAdjust="spacingAndGlyphs">control</text>
<text transform="translate(312.2,644.2) rotate(-90)" x="0" y="0" font-size="8.6" text-anchor="middle" textLength="46.9" lengthAdjust="spacingAndGlyphs">Pretreatment</text>
<text transform="translate(323.0,644.2) rotate(-90)" x="0" y="0" font-size="8.6" text-anchor="middle" textLength="14.6" lengthAdjust="spacingAndGlyphs">CLL</text>
<text transform="translate(346.2,613.8) rotate(-90)" x="0" y="0" font-size="10.6" text-anchor="middle" textLength="20.0" lengthAdjust="spacingAndGlyphs" stroke="#000" stroke-width="0.3">Count</text>
<line x1="375.2" y1="556.0" x2="375.2" y2="610.6" stroke="#000" stroke-width="1.4" />
<line x1="374.5" y1="610.0" x2="497.5" y2="610.0" stroke="#000" stroke-width="1.4" />
<line x1="371.3" y1="579.8" x2="375.2" y2="579.8" stroke="#000" stroke-width="1.2" />
<text x="353.8" y="582.6999999999999" font-size="8.4">10</text>
<text x="363.3" y="578.5" font-size="5.6">2</text>
<line x1="371.3" y1="605.4" x2="375.2" y2="605.4" stroke="#000" stroke-width="1.2" />
<text x="353.8" y="608.3" font-size="8.4">10</text>
<text x="363.3" y="604.1" font-size="5.6">0</text>
<line x1="375.2" y1="610.0" x2="375.2" y2="614.0" stroke="#000" stroke-width="1.2" />
<line x1="409.8" y1="610.0" x2="409.8" y2="614.0" stroke="#000" stroke-width="1.2" />
<line x1="444.6" y1="610.0" x2="444.6" y2="614.0" stroke="#000" stroke-width="1.2" />
<line x1="479.6" y1="610.0" x2="479.6" y2="614.0" stroke="#000" stroke-width="1.2" />
<line x1="375.2" y1="617.7" x2="375.2" y2="672.0" stroke="#000" stroke-width="1.4" />
<line x1="374.5" y1="671.4" x2="498.7" y2="671.4" stroke="#000" stroke-width="1.4" />
<line x1="371.3" y1="642.3" x2="375.2" y2="642.3" stroke="#000" stroke-width="1.2" />
<text x="353.8" y="645.1999999999999" font-size="8.4">10</text>
<text x="363.3" y="641.0" font-size="5.6">2</text>
<line x1="371.3" y1="667.7" x2="375.2" y2="667.7" stroke="#000" stroke-width="1.2" />
<text x="353.8" y="670.6" font-size="8.4">10</text>
<text x="363.3" y="666.4000000000001" font-size="5.6">0</text>
<line x1="375.2" y1="671.4" x2="375.2" y2="675.4" stroke="#000" stroke-width="1.2" />
<line x1="409.8" y1="671.4" x2="409.8" y2="675.4" stroke="#000" stroke-width="1.2" />
<line x1="444.6" y1="671.4" x2="444.6" y2="675.4" stroke="#000" stroke-width="1.2" />
<line x1="479.6" y1="671.4" x2="479.6" y2="675.4" stroke="#000" stroke-width="1.2" />
<polygon points="397.80,610.00 397.80,585.60 398.70,584.90 400.10,578.80 401.40,574.10 403.50,570.80 406.20,569.20 409.50,569.20 411.50,570.50 414.20,573.20 416.90,575.50 418.90,577.20 421.00,580.20 423.00,584.20 425.00,587.60 426.30,592.30 428.40,595.70 429.70,599.00 431.70,600.40 433.10,602.40 433.70,605.80 435.80,606.40 435.80,610.00" fill="#a6002c" />
<rect x="435.8" y="606.4" width="6.0" height="3.6" fill="#c4506a" />
<rect x="450.0" y="605.8" width="1.5" height="4.2" fill="#c4506a" />
<polygon points="394.00,671.00 394.00,665.10 395.10,663.30 396.70,663.30 397.40,667.10 402.80,667.10 403.50,660.40 404.80,657.70 406.20,646.90 407.50,637.50 408.80,631.40 410.20,630.10 411.50,632.10 412.90,638.80 414.20,646.90 415.60,655.00 416.90,656.30 418.30,657.00 419.60,661.70 421.00,663.10 422.00,667.10 423.00,671.00" fill="#a6002c" />
<rect x="423.8" y="667.1" width="1.0" height="4.0" fill="#b5304f" />
<rect x="426.5" y="667.1" width="1.0" height="4.0" fill="#b5304f" />
<rect x="428.5" y="667.1" width="1.0" height="4.0" fill="#b5304f" />
<rect x="430.5" y="667.1" width="1.0" height="4.0" fill="#b5304f" />
<rect x="432.3" y="667.1" width="1.0" height="4.0" fill="#b5304f" />
<rect x="434.6" y="667.1" width="1.0" height="4.0" fill="#b5304f" />
<rect x="437.3" y="667.1" width="1.0" height="4.0" fill="#b5304f" />
<rect x="450.1" y="667.1" width="1.0" height="4.0" fill="#b5304f" />
<rect x="471.2" y="667.1" width="1.0" height="4.0" fill="#b5304f" />
<rect x="479.3" y="667.1" width="1.0" height="4.0" fill="#b5304f" />
<rect x="487.4" y="667.1" width="1.0" height="4.0" fill="#b5304f" />
<rect x="491.4" y="667.1" width="1.0" height="4.0" fill="#b5304f" />
<line x1="450.8" y1="557.0" x2="450.8" y2="610.0" stroke="#000" stroke-width="1.2" stroke-dasharray="2.2,1.6"/>
<line x1="450.8" y1="618.0" x2="450.8" y2="671.4" stroke="#000" stroke-width="1.2" stroke-dasharray="2.2,1.6"/>
<path d="M454.2,661.2 L454.2,659.3 L471.8,659.3 Q473.4,659.3 473.4,657.1 Q473.4,659.3 475,659.3 L492.7,659.3 L492.7,661.2" fill="none" stroke="#000" stroke-width="1.0"/>
<text x="463.1" y="650.9" font-size="7.6" textLength="21.3" lengthAdjust="spacingAndGlyphs">0.06%</text>
<text x="375.2" y="686.7" font-size="8.6" text-anchor="middle">0</text>
<text x="409.8" y="686.7" font-size="8.6" text-anchor="middle">1</text>
<text x="444.6" y="686.7" font-size="8.6" text-anchor="middle">2</text>
<text x="479.6" y="686.7" font-size="8.6" text-anchor="middle">3</text>
<text x="376.7" y="702.9" font-size="10.6" textLength="118.7" lengthAdjust="spacingAndGlyphs" stroke="#000" stroke-width="0.3">Normalized activated fluorescence</text>
</svg>
</body></html>
